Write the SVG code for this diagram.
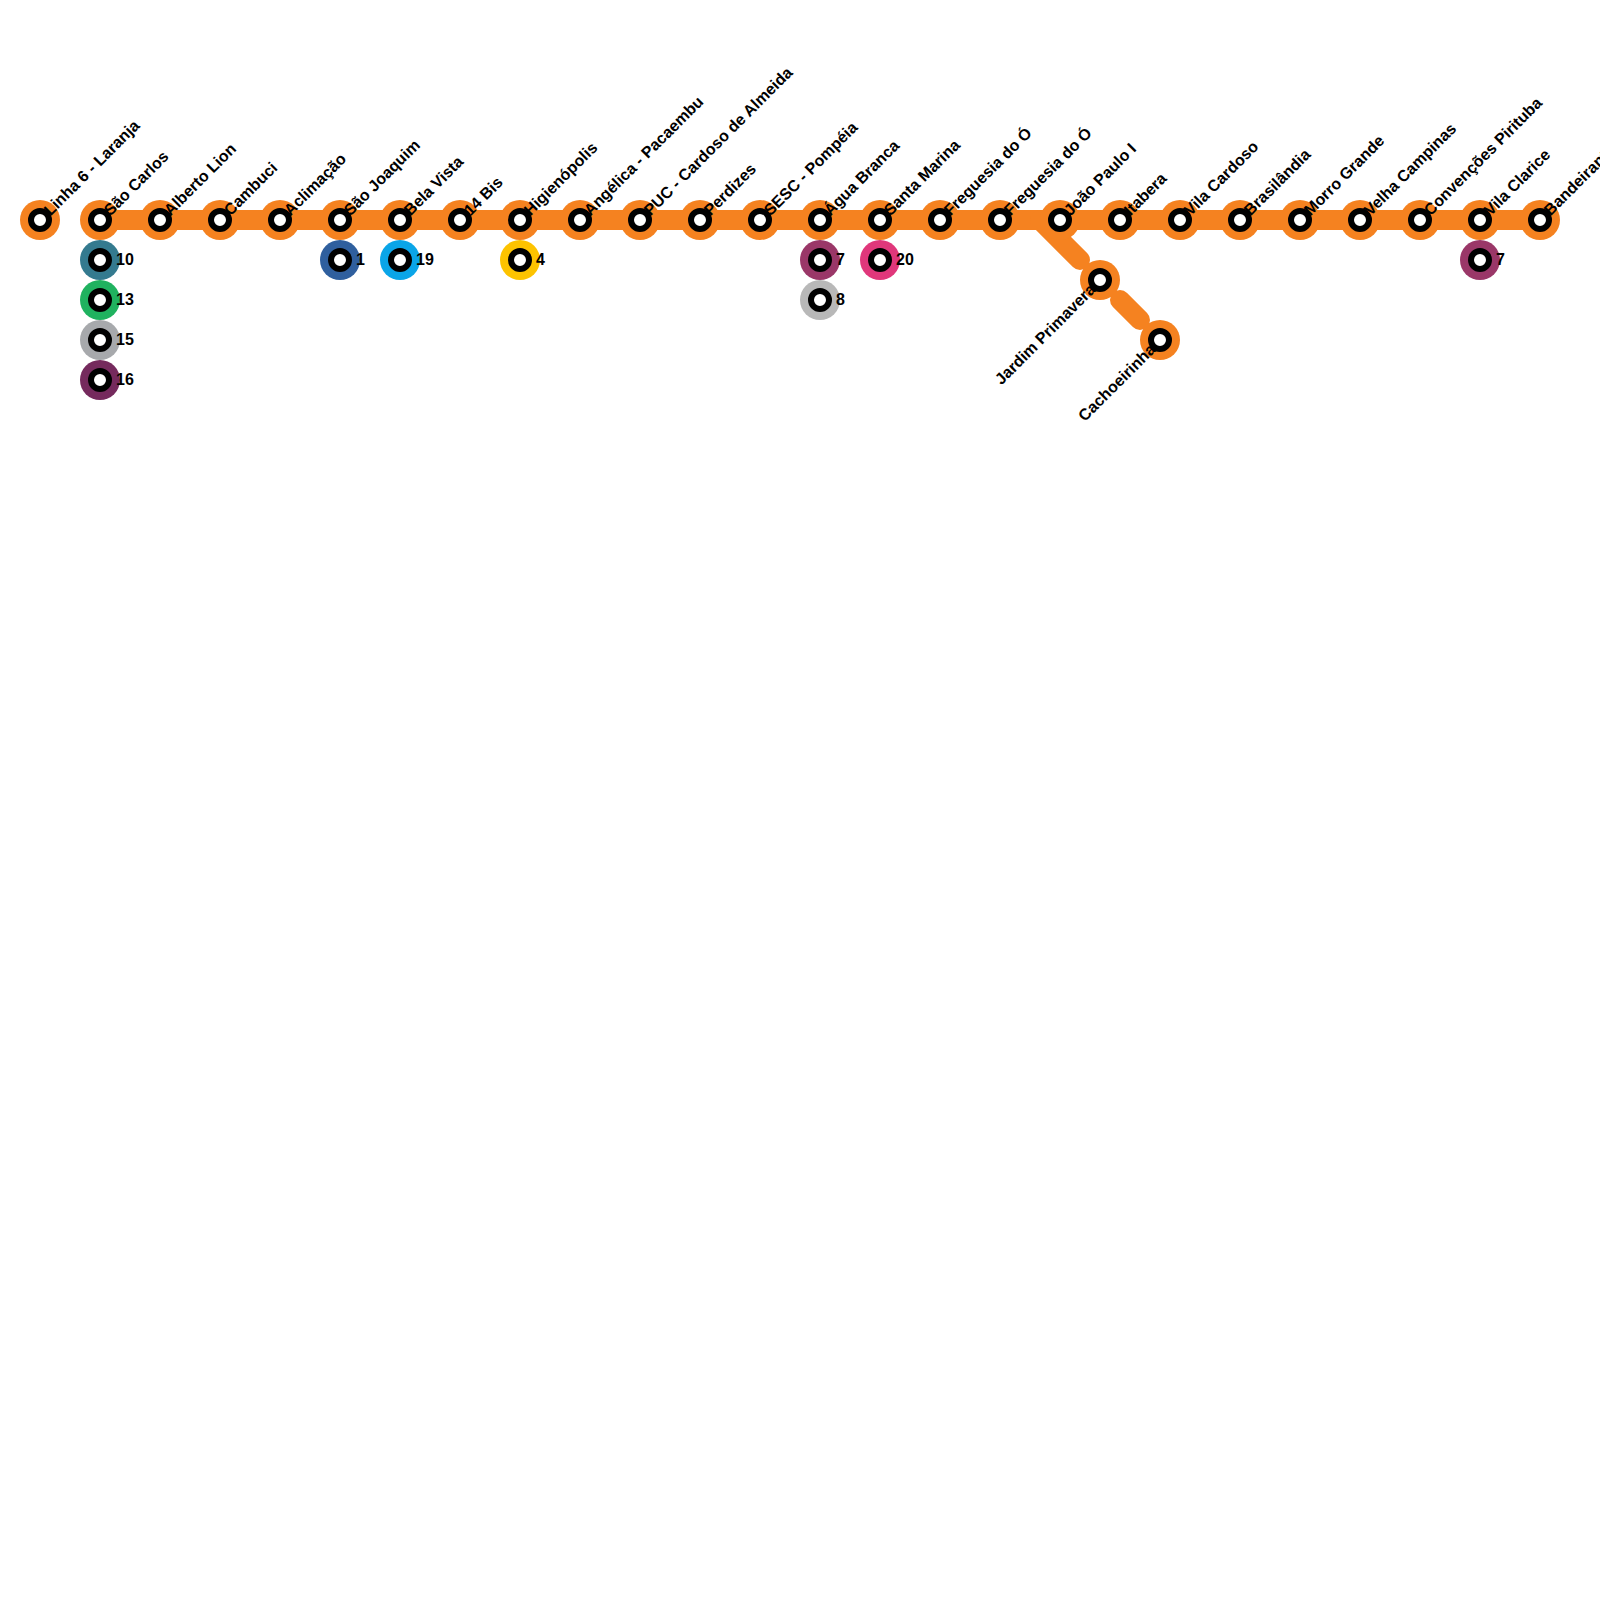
<svg xmlns="http://www.w3.org/2000/svg" width="1600" height="1600" viewBox="0 0 1600 1600">
<style>
text{font-family:"Liberation Sans",Arial,sans-serif;font-weight:700;font-size:16px;fill:#000}
.r{fill:none;stroke-linecap:round;stroke-linejoin:round;stroke-width:20px;stroke:#f58220}
.o{fill:#f58220}.i{fill:#fff;stroke:#000;stroke-width:6px}
</style>
<rect width="1600" height="1600" fill="#fff"/>
<g id="connectors">
<path class="r" d="M100 220H1540"/>
<path class="r" d="M1040 220L1080 260"/>
<path class="r" d="M1120 300L1140 320"/>
</g>
<g id="s1"><circle class="o" cx="40" cy="220" r="20"/><circle class="i" cx="40" cy="220" r="9"/><text transform="translate(47 213) rotate(-45)" x="0" y="5">Linha 6 - Laranja</text></g>
<g id="s2"><circle class="o" cx="100" cy="220" r="20"/><circle class="i" cx="100" cy="220" r="9"/><text transform="translate(107 213) rotate(-45)" x="0" y="5">São Carlos</text></g>
<g id="s3"><circle class="o" cx="160" cy="220" r="20"/><circle class="i" cx="160" cy="220" r="9"/><text transform="translate(167 213) rotate(-45)" x="0" y="5">Alberto Lion</text></g>
<g id="s4"><circle class="o" cx="220" cy="220" r="20"/><circle class="i" cx="220" cy="220" r="9"/><text transform="translate(227 213) rotate(-45)" x="0" y="5">Cambuci</text></g>
<g id="s5"><circle class="o" cx="280" cy="220" r="20"/><circle class="i" cx="280" cy="220" r="9"/><text transform="translate(287 213) rotate(-45)" x="0" y="5">Aclimação</text></g>
<g id="s6"><circle class="o" cx="340" cy="220" r="20"/><circle class="i" cx="340" cy="220" r="9"/><text transform="translate(347 213) rotate(-45)" x="0" y="5">São Joaquim</text></g>
<g id="s7"><circle class="o" cx="400" cy="220" r="20"/><circle class="i" cx="400" cy="220" r="9"/><text transform="translate(407 213) rotate(-45)" x="0" y="5">Bela Vista</text></g>
<g id="s8"><circle class="o" cx="460" cy="220" r="20"/><circle class="i" cx="460" cy="220" r="9"/><text transform="translate(467 213) rotate(-45)" x="0" y="5">14 Bis</text></g>
<g id="s9"><circle class="o" cx="520" cy="220" r="20"/><circle class="i" cx="520" cy="220" r="9"/><text transform="translate(527 213) rotate(-45)" x="0" y="5">Higienópolis</text></g>
<g id="s10"><circle class="o" cx="580" cy="220" r="20"/><circle class="i" cx="580" cy="220" r="9"/><text transform="translate(587 213) rotate(-45)" x="0" y="5">Angélica - Pacaembu</text></g>
<g id="s11"><circle class="o" cx="640" cy="220" r="20"/><circle class="i" cx="640" cy="220" r="9"/><text transform="translate(647 213) rotate(-45)" x="0" y="5">PUC - Cardoso de Almeida</text></g>
<g id="s12"><circle class="o" cx="700" cy="220" r="20"/><circle class="i" cx="700" cy="220" r="9"/><text transform="translate(707 213) rotate(-45)" x="0" y="5">Perdizes</text></g>
<g id="s13"><circle class="o" cx="760" cy="220" r="20"/><circle class="i" cx="760" cy="220" r="9"/><text transform="translate(767 213) rotate(-45)" x="0" y="5">SESC - Pompéia</text></g>
<g id="s14"><circle class="o" cx="820" cy="220" r="20"/><circle class="i" cx="820" cy="220" r="9"/><text transform="translate(827 213) rotate(-45)" x="0" y="5">Água Branca</text></g>
<g id="s15"><circle class="o" cx="880" cy="220" r="20"/><circle class="i" cx="880" cy="220" r="9"/><text transform="translate(887 213) rotate(-45)" x="0" y="5">Santa Marina</text></g>
<g id="s16"><circle class="o" cx="940" cy="220" r="20"/><circle class="i" cx="940" cy="220" r="9"/><text transform="translate(947 213) rotate(-45)" x="0" y="5">Freguesia do Ó</text></g>
<g id="s17"><circle class="o" cx="1000" cy="220" r="20"/><circle class="i" cx="1000" cy="220" r="9"/><text transform="translate(1007 213) rotate(-45)" x="0" y="5">Freguesia do Ó</text></g>
<g id="s18"><circle class="o" cx="1060" cy="220" r="20"/><circle class="i" cx="1060" cy="220" r="9"/><text transform="translate(1067 213) rotate(-45)" x="0" y="5">João Paulo I</text></g>
<g id="s19"><circle class="o" cx="1120" cy="220" r="20"/><circle class="i" cx="1120" cy="220" r="9"/><text transform="translate(1127 213) rotate(-45)" x="0" y="5">Itabera</text></g>
<g id="s20"><circle class="o" cx="1180" cy="220" r="20"/><circle class="i" cx="1180" cy="220" r="9"/><text transform="translate(1187 213) rotate(-45)" x="0" y="5">Vila Cardoso</text></g>
<g id="s21"><circle class="o" cx="1240" cy="220" r="20"/><circle class="i" cx="1240" cy="220" r="9"/><text transform="translate(1247 213) rotate(-45)" x="0" y="5">Brasilândia</text></g>
<g id="s22"><circle class="o" cx="1300" cy="220" r="20"/><circle class="i" cx="1300" cy="220" r="9"/><text transform="translate(1307 213) rotate(-45)" x="0" y="5">Morro Grande</text></g>
<g id="s23"><circle class="o" cx="1360" cy="220" r="20"/><circle class="i" cx="1360" cy="220" r="9"/><text transform="translate(1367 213) rotate(-45)" x="0" y="5">Velha Campinas</text></g>
<g id="s24"><circle class="o" cx="1420" cy="220" r="20"/><circle class="i" cx="1420" cy="220" r="9"/><text transform="translate(1427 213) rotate(-45)" x="0" y="5">Convenções Pirituba</text></g>
<g id="s25"><circle class="o" cx="1480" cy="220" r="20"/><circle class="i" cx="1480" cy="220" r="9"/><text transform="translate(1487 213) rotate(-45)" x="0" y="5">Vila Clarice</text></g>
<g id="s26"><circle class="o" cx="1540" cy="220" r="20"/><circle class="i" cx="1540" cy="220" r="9"/><text transform="translate(1547 213) rotate(-45)" x="0" y="5">Bandeirantes</text></g>
<g id="b1"><circle class="o" cx="1100" cy="280" r="20"/><circle class="i" cx="1100" cy="280" r="9"/><text transform="translate(1093 287) rotate(-45)" x="0" y="5" text-anchor="end">Jardim Primavera</text></g>
<g id="b2"><circle class="o" cx="1160" cy="340" r="20"/><circle class="i" cx="1160" cy="340" r="9"/><text transform="translate(1153 347) rotate(-45)" x="0" y="5" text-anchor="end">Cachoeirinha</text></g>
<g id="x10"><circle cx="100" cy="260" r="20" fill="#347a8f"/><circle class="i" cx="100" cy="260" r="9"/><text x="116" y="265">10</text></g>
<g id="x13"><circle cx="100" cy="300" r="20" fill="#20b25f"/><circle class="i" cx="100" cy="300" r="9"/><text x="116" y="305">13</text></g>
<g id="x15"><circle cx="100" cy="340" r="20" fill="#a7a9ac"/><circle class="i" cx="100" cy="340" r="9"/><text x="116" y="345">15</text></g>
<g id="x16"><circle cx="100" cy="380" r="20" fill="#752a5d"/><circle class="i" cx="100" cy="380" r="9"/><text x="116" y="385">16</text></g>
<g id="x1"><circle cx="340" cy="260" r="20" fill="#2f5f9e"/><circle class="i" cx="340" cy="260" r="9"/><text x="356" y="265">1</text></g>
<g id="x19"><circle cx="400" cy="260" r="20" fill="#0aa5e8"/><circle class="i" cx="400" cy="260" r="9"/><text x="416" y="265">19</text></g>
<g id="x4"><circle cx="520" cy="260" r="20" fill="#fdc300"/><circle class="i" cx="520" cy="260" r="9"/><text x="536" y="265">4</text></g>
<g id="x7a"><circle cx="820" cy="260" r="20" fill="#9a3768"/><circle class="i" cx="820" cy="260" r="9"/><text x="836" y="265">7</text></g>
<g id="x8"><circle cx="820" cy="300" r="20" fill="#b8b8b8"/><circle class="i" cx="820" cy="300" r="9"/><text x="836" y="305">8</text></g>
<g id="x20"><circle cx="880" cy="260" r="20" fill="#e0377b"/><circle class="i" cx="880" cy="260" r="9"/><text x="896" y="265">20</text></g>
<g id="x7b"><circle cx="1480" cy="260" r="20" fill="#9a3768"/><circle class="i" cx="1480" cy="260" r="9"/><text x="1496" y="265">7</text></g>
</svg>
